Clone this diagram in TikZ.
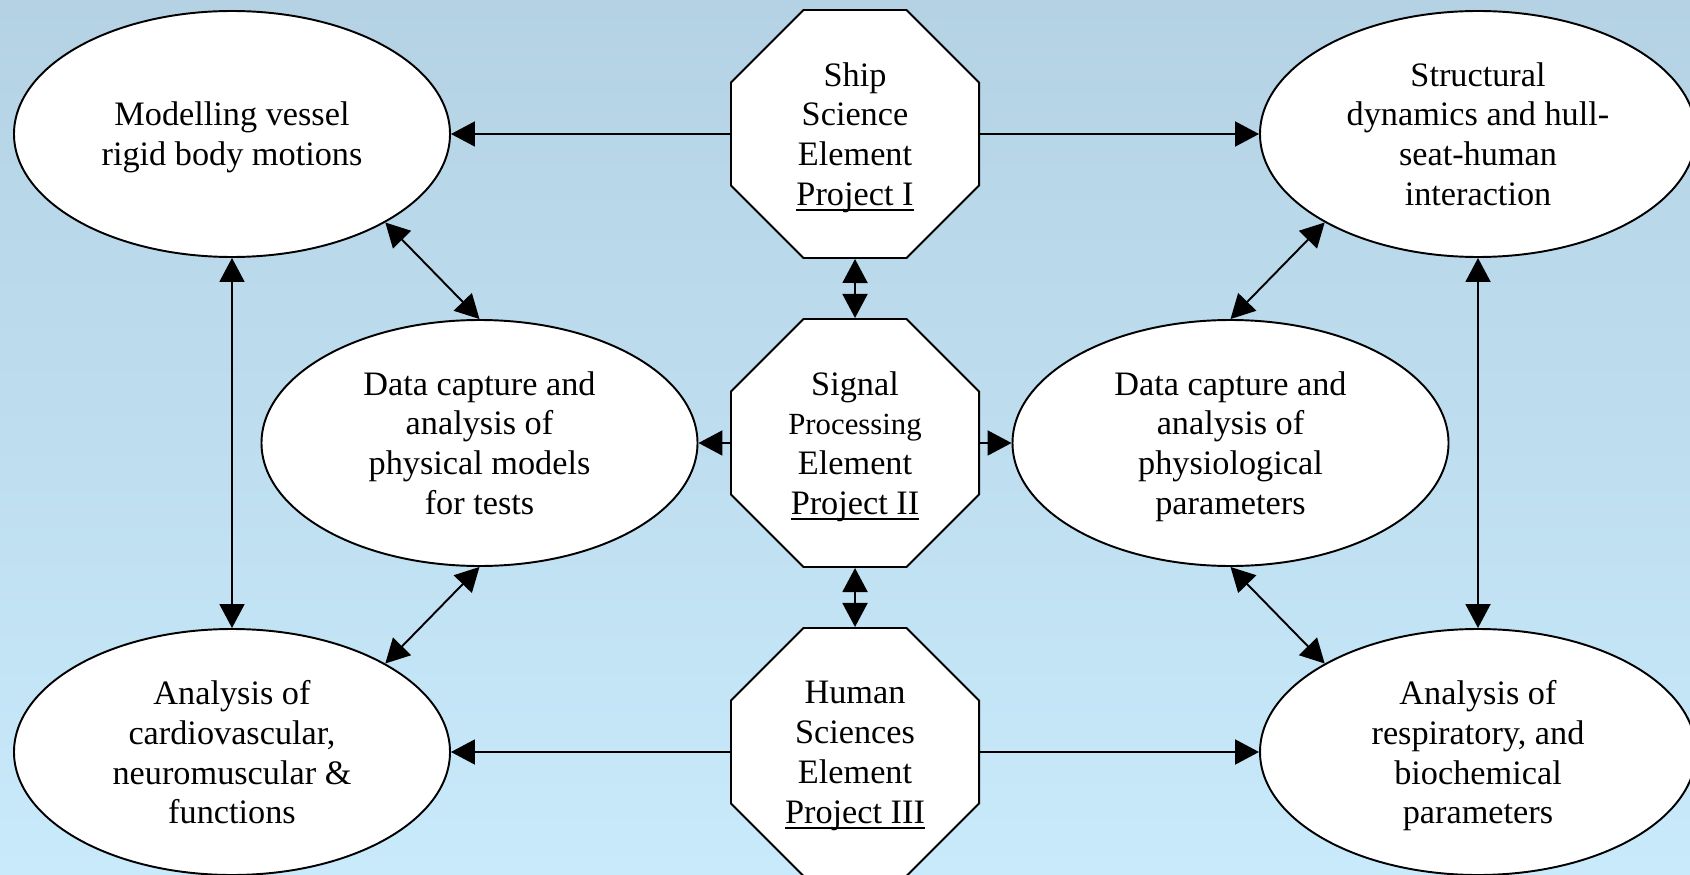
\documentclass[tikz,border=0pt]{standalone}
\usepackage{fontspec}
\setmainfont{Liberation Serif}
\usetikzlibrary{shapes.geometric,arrows.meta}
\definecolor{skytop}{RGB}{180,210,228}
\definecolor{skybottom}{RGB}{200,234,251}
\newcommand\projname[1]{\setbox0\hbox{#1}\rlap{\rule[-3.2pt]{\wd0}{1.1pt}}\box0}
\tikzset{
	oval/.style={draw,fill=white,ellipse,line width=1.1pt,minimum width=8.72cm,minimum height=4.92cm,inner sep=0pt,align=center,text depth=0pt,font=\fontsize{19.5}{22.7}\selectfont},
	octo/.style={draw,fill=white,regular polygon,regular polygon sides=8,line width=1.1pt,minimum size=5.37cm,inner sep=0pt,align=center,text depth=-2.4pt,font=\fontsize{19.5}{22.7}\selectfont},
	link/.style={line width=1.1pt,-{Triangle[length=0.48cm,width=0.5cm]}},
	both/.style={line width=1.1pt,{Triangle[length=0.48cm,width=0.5cm]}-{Triangle[length=0.48cm,width=0.5cm]}}
}

\begin{document}
\begin{tikzpicture}
		\clip (0,0) rectangle (33.8,17.48);
		\fill[top color=skytop,bottom color=skybottom] (0,0) rectangle (33.8,17.48);
		\node[octo] (p-1) at (17.1,14.8) {Ship\\Science\\Element\\\projname{Project I}};
		\node[octo] (p-2) at (17.1,8.62) {Signal\\{\fontsize{17.5}{22.7}\selectfont Processing}\\Element\\\projname{Project II}};
		\node[octo] (p-3) at (17.1,2.44) {Human\\Sciences\\Element\\\projname{Project III}};
		\node[oval] (ol-1) at (4.64,14.8) {Modelling vessel\\rigid body motions};
		\node[oval] (ol-2) at (4.64,2.44) {Analysis of\\cardiovascular,\\neuromuscular \&\\functions};
		\node[oval] (il) at (9.59,8.62) {Data capture and\\analysis of\\physical models\\for tests};
		\node[oval] (ir) at (24.61,8.62) {Data capture and\\analysis of\\physiological\\parameters};
		\node[oval] (or-1) at (29.56,14.8) {Structural\\dynamics and hull-\\seat-human\\interaction};
		\node[oval] (or-2) at (29.56,2.44) {Analysis of\\respiratory, and\\biochemical\\parameters};
		\draw[link] (p-1) -- (ol-1);
		\draw[link] (p-1) -- (or-1);
		\draw[link] (p-3) -- (ol-2);
		\draw[link] (p-3) -- (or-2);
		\draw[link] (p-2) -- (il);
		\draw[link] (p-2) -- (ir);
		\draw[both] (p-1) -- (p-2);
		\draw[both] (p-2) -- (p-3);
		\draw[both] (ol-1) -- (ol-2);
		\draw[both] (or-1) -- (or-2);
		\draw[both] (il.north) -- (ol-1.-30);
		\draw[both] (il.south) -- (ol-2.30);
		\draw[both] (ir.north) -- (or-1.210);
		\draw[both] (ir.south) -- (or-2.150);
	\end{tikzpicture}
\end{document}
